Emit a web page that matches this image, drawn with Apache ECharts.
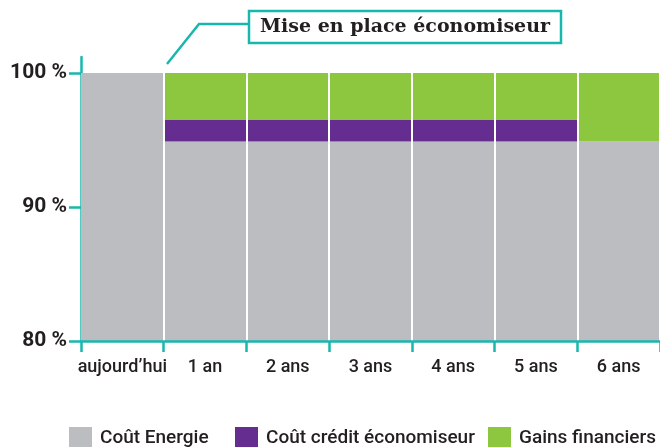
<!DOCTYPE html>
<html>
<head>
<meta charset="utf-8">
<script src="https://cdn.jsdelivr.net/npm/echarts@6/dist/echarts.min.js"></script>
<style>html,body{margin:0;padding:0;background:#fff}#c{width:660px;height:447px}</style>
</head>
<body>
<div id="c"></div>
<script>
const categories = ["aujourd’hui", "1 an", "2 ans", "3 ans", "4 ans", "5 ans", "6 ans"];
const coutEnergie = [100, 94.9, 94.9, 94.9, 94.9, 94.9, 94.9];
const coutCredit = [0, 1.6, 1.6, 1.6, 1.6, 1.6, 0];
const gains = [0, 3.5, 3.5, 3.5, 3.5, 3.5, 5.1];
const yTicks = [80, 90, 100];
const seriesNames = ["Coût Energie", "Coût crédit économiseur", "Gains financiers"];
const annotation = "Mise en place économiseur";

const TEAL = '#18b7ae';
const TXT = '#231f20';
const FONT = '"Roboto", "Liberation Sans", sans-serif';
const colors = ['#bcbdc0', '#662d91', '#8dc63f'];

const chart = echarts.init(document.getElementById('c'), null, {renderer: 'canvas'});
const legendPos = [69, 235, 488];
chart.setOption({
  animation: false,
  grid: {left: 81, right: 0, top: 57, bottom: 106, containLabel: false},
  xAxis: {
    type: 'category', data: categories, boundaryGap: true, z: 5,
    axisLine: {show: true, lineStyle: {color: TEAL, width: 2.5}},
    axisTick: {show: true, interval: 0, length: 11, lineStyle: {color: TEAL, width: 2.5}},
    axisLabel: {interval: 0, color: TXT, fontSize: 18, fontFamily: FONT, fontWeight: 500, margin: 17},
    splitLine: {show: true, interval: (i) => i > 0, lineStyle: {color: '#fff', width: 2}}
  },
  yAxis: {
    type: 'value', min: 80, max: 101.2, interval: 10,
    axisLine: {show: true, lineStyle: {color: TEAL, width: 2.5}},
    axisTick: {show: true, length: 12, customValues: yTicks, lineStyle: {color: TEAL, width: 2.5}},
    axisLabel: {customValues: yTicks, formatter: v => v + ' %', color: TXT, fontSize: 21, fontFamily: FONT, fontWeight: 'bold', margin: 14},
    splitLine: {show: false}
  },
  legend: seriesNames.map((n, i) => ({
    data: [n], left: legendPos[i], top: 427, icon: 'rect', itemWidth: 23, itemHeight: 23,
    padding: 0, selectedMode: false,
    textStyle: {color: TXT, fontSize: 19, fontFamily: FONT, fontWeight: 500, padding: [0, 0, 0, 3]}
  })),
  series: [
    {name: seriesNames[0], type: 'bar', stack: 't', data: coutEnergie, barCategoryGap: '0%', itemStyle: {color: colors[0]}},
    {name: seriesNames[1], type: 'bar', stack: 't', data: coutCredit, barCategoryGap: '0%', itemStyle: {color: colors[1]}},
    {name: seriesNames[2], type: 'bar', stack: 't', data: gains, barCategoryGap: '0%', itemStyle: {color: colors[2]}}
  ],
  graphic: [
    {type: 'polyline', shape: {points: [[167, 64], [199, 24], [249, 24]]}, style: {stroke: TEAL, lineWidth: 2.5, fill: null}},
    {type: 'rect', shape: {x: 249, y: 11, width: 312, height: 32}, style: {stroke: TEAL, lineWidth: 2.5, fill: '#fff'}},
    {type: 'text', x: 405, y: 27, style: {text: annotation, fill: TXT, font: 'bold 19px "DejaVu Serif", serif', align: 'center', verticalAlign: 'middle'}}
  ]
});
</script>
</body>
</html>
